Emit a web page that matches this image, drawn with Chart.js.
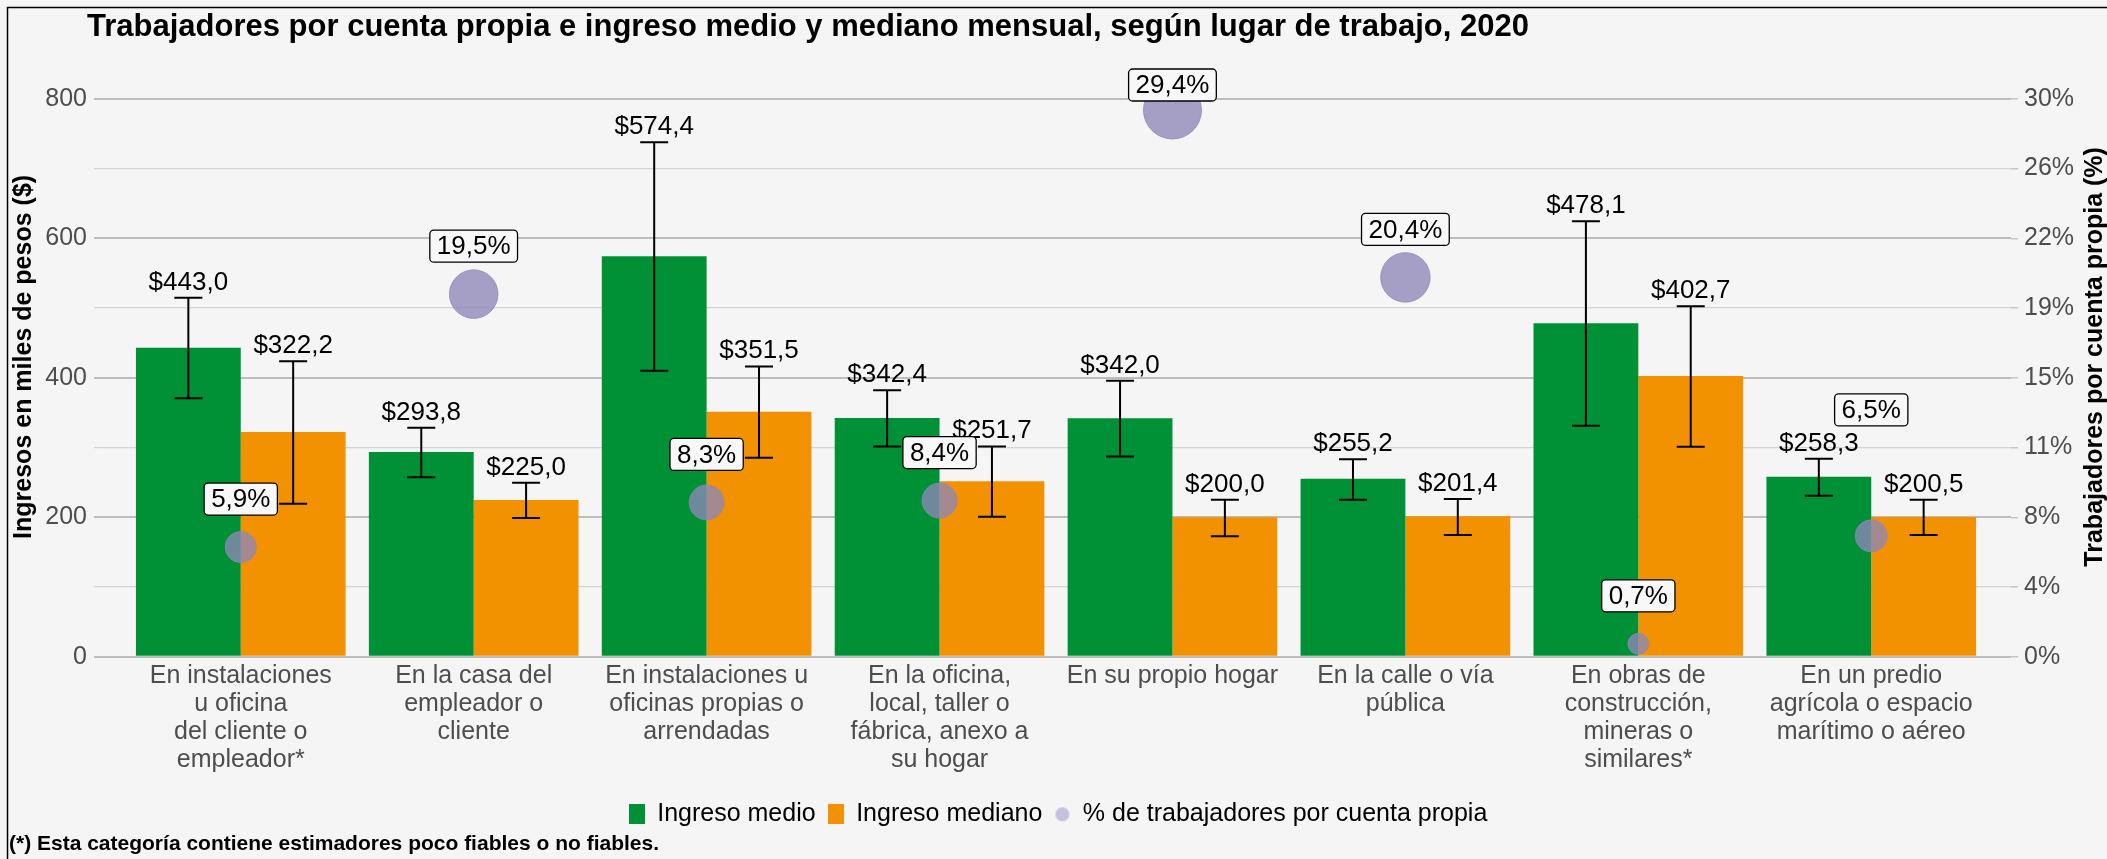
<!DOCTYPE html>
<html lang="es">
<head>
<meta charset="utf-8">
<title>Trabajadores por cuenta propia e ingreso medio y mediano mensual</title>
<script src="https://cdn.jsdelivr.net/npm/chart.js@4.4.1/dist/chart.umd.min.js"></script>
<style>
  html, body { margin: 0; padding: 0; background: #f5f5f5; }
  .chart-wrap { position: relative; width: 2107px; height: 859px; }
</style>
</head>
<body>
<div class="chart-wrap"><canvas id="chart"></canvas></div>
<script>
// Data
const categories = [
    ['En instalaciones', 'u oficina', 'del cliente o', 'empleador*'],
    ['En la casa del', 'empleador o', 'cliente'],
    ['En instalaciones u', 'oficinas propias o', 'arrendadas'],
    ['En la oficina,', 'local, taller o', 'fábrica, anexo a', 'su hogar'],
    ['En su propio hogar'],
    ['En la calle o vía', 'pública'],
    ['En obras de', 'construcción,', 'mineras o', 'similares*'],
    ['En un predio', 'agrícola o espacio', 'marítimo o aéreo']
];
const ingresoMedio = [443.0, 293.8, 574.4, 342.4, 342.0, 255.2, 478.1, 258.3];
const medioLow = [370.8, 257.5, 410.2, 301.6, 287.2, 225.2, 331.4, 231.0];
const medioHigh = [514.9, 328.5, 737.8, 382.3, 395.8, 283.4, 624.4, 283.9];
const ingresoMediano = [322.2, 225.0, 351.5, 251.7, 200.0, 201.4, 402.7, 200.5];
const medianoLow = [219.5, 198.9, 285.3, 200.7, 172.9, 174.8, 301.2, 174.8];
const medianoHigh = [423.7, 249.7, 416.4, 301.6, 225.2, 226.2, 502.5, 225.2];
const pctCuentaPropia = [5.9, 19.5, 8.3, 8.4, 29.4, 20.4, 0.7, 6.5];
const leftTickLabels = [0, 200, 400, 600, 800];
const rightTickLabels = ['0%', '4%', '8%', '11%', '15%', '19%', '22%', '26%', '30%'];

const FONT = '"Liberation Sans", Arial, sans-serif';
const GREEN = '#009036';
const ORANGE = '#f39200';
const PURPLE = 'rgba(142, 134, 184, 0.78)';

// label gap above bubble centre (px); a couple were repelled in the original
const bubbleLabelGap = { 4: 25, 7: 126 };

function fmtPeso(v) {
    return '$' + v.toFixed(1).replace('.', ',');
}
function fmtPct(v) {
    return v.toFixed(1).replace('.', ',') + '%';
}

// legend keys
function keyRect(color) {
    const c = document.createElement('canvas');
    c.width = 16; c.height = 20;
    const g = c.getContext('2d');
    g.fillStyle = color;
    g.fillRect(0, 0, 16, 20);
    return c;
}
function keyDot(color) {
    const c = document.createElement('canvas');
    c.width = 16; c.height = 16;
    const g = c.getContext('2d');
    g.fillStyle = color;
    g.beginPath();
    g.arc(8, 8, 7, 0, Math.PI * 2);
    g.fill();
    return c;
}

const extrasPlugin = {
    id: 'extras',
    afterDatasetsDraw(chart) {
        const ctx = chart.ctx;
        const yScale = chart.scales.y;
        chart.data.datasets.forEach((ds, di) => {
            if (!ds.errLow) return;
            const meta = chart.getDatasetMeta(di);
            meta.data.forEach((bar, j) => {
                const top = yScale.getPixelForValue(ds.errHigh[j]);
                const bottom = yScale.getPixelForValue(ds.errLow[j]);
                ctx.save();
                ctx.strokeStyle = '#000';
                ctx.lineWidth = 2;
                ctx.beginPath();
                ctx.moveTo(bar.x, top); ctx.lineTo(bar.x, bottom);
                ctx.moveTo(bar.x - 14, top); ctx.lineTo(bar.x + 14, top);
                ctx.moveTo(bar.x - 14, bottom); ctx.lineTo(bar.x + 14, bottom);
                ctx.stroke();
                ctx.fillStyle = '#000';
                ctx.font = '26px ' + FONT;
                ctx.textAlign = 'center';
                ctx.textBaseline = 'alphabetic';
                ctx.fillText(fmtPeso(ds.data[j].y), bar.x, top - 8);
                ctx.restore();
            });
        });
    },
    afterDraw(chart) {
        const ctx = chart.ctx;
        const area = chart.chartArea;

        // boxed labels over the bubbles
        const bubbleIdx = chart.data.datasets.findIndex(d => d.type === 'bubble');
        const meta = chart.getDatasetMeta(bubbleIdx);
        ctx.save();
        ctx.font = '26px ' + FONT;
        meta.data.forEach((pt, j) => {
            const text = fmtPct(pctCuentaPropia[j]);
            const gap = bubbleLabelGap[j] !== undefined ? bubbleLabelGap[j] : 48;
            const cy = pt.y - gap;
            const w = ctx.measureText(text).width + 14;
            const h = 32;
            const x0 = pt.x - w / 2, y0 = cy - h / 2, r = 4;
            ctx.beginPath();
            ctx.moveTo(x0 + r, y0);
            ctx.arcTo(x0 + w, y0, x0 + w, y0 + h, r);
            ctx.arcTo(x0 + w, y0 + h, x0, y0 + h, r);
            ctx.arcTo(x0, y0 + h, x0, y0, r);
            ctx.arcTo(x0, y0, x0 + w, y0, r);
            ctx.closePath();
            ctx.fillStyle = '#f8f8f8';
            ctx.fill();
            ctx.strokeStyle = '#000';
            ctx.lineWidth = 1.3;
            ctx.stroke();
            ctx.fillStyle = '#000';
            ctx.textAlign = 'center';
            ctx.textBaseline = 'middle';
            ctx.fillText(text, pt.x, cy + 1);
        });
        ctx.restore();

        // title
        ctx.save();
        ctx.fillStyle = '#000';
        ctx.font = 'bold 31px ' + FONT;
        ctx.textAlign = 'left';
        ctx.textBaseline = 'alphabetic';
        ctx.fillText('Trabajadores por cuenta propia e ingreso medio y mediano mensual, según lugar de trabajo, 2020', 87, 36);
        ctx.restore();

        // right axis title, reading bottom to top
        ctx.save();
        ctx.translate(2095, (area.top + area.bottom) / 2);
        ctx.rotate(-Math.PI / 2);
        ctx.fillStyle = '#000';
        ctx.font = 'bold 25px ' + FONT;
        ctx.textAlign = 'center';
        ctx.textBaseline = 'middle';
        ctx.fillText('Trabajadores por cuenta propia (%)', 0, 0);
        ctx.restore();

        // frame
        ctx.save();
        ctx.strokeStyle = '#000';
        ctx.lineWidth = 1.5;
        ctx.strokeRect(7.5, 7.5, chart.width + 20, chart.height + 20);
        ctx.restore();
    }
};

const ctx = document.getElementById('chart').getContext('2d');
new Chart(ctx, {
    type: 'bar',
    data: {
        datasets: [
            {
                label: 'Ingreso medio',
                data: ingresoMedio.map((v, i) => ({ x: i + 1, y: v })),
                errLow: medioLow,
                errHigh: medioHigh,
                backgroundColor: GREEN,
                yAxisID: 'y'
            },
            {
                label: 'Ingreso mediano',
                data: ingresoMediano.map((v, i) => ({ x: i + 1, y: v })),
                errLow: medianoLow,
                errHigh: medianoHigh,
                backgroundColor: ORANGE,
                yAxisID: 'y'
            },
            {
                type: 'bubble',
                label: '% de trabajadores por cuenta propia',
                // area grows with the share, like the original size scale
                data: pctCuentaPropia.map((v, i) => ({ x: i + 1, y: v, r: Math.sqrt(92 + 25.5 * v) })),
                backgroundColor: PURPLE,
                borderColor: PURPLE,
                borderWidth: 1,
                yAxisID: 'y1',
                order: -1
            }
        ]
    },
    options: {
        responsive: true,
        maintainAspectRatio: false,
        animation: false,
        events: [],
        categoryPercentage: 0.9,
        barPercentage: 1.0,
        layout: { padding: { top: 57, left: 9, right: 0, bottom: 0 } },
        scales: {
            x: {
                type: 'linear',
                min: 0.4,
                max: 8.6,
                offset: false,
                grid: { display: false, drawTicks: false },
                border: { display: false },
                ticks: {
                    stepSize: 1,
                    includeBounds: false,
                    autoSkip: false,
                    maxRotation: 0,
                    padding: 5,
                    color: '#4d4d4d',
                    font: { size: 25, family: FONT, lineHeight: 1.12 },
                    callback: v => categories[v - 1] || ''
                },
                afterFit: s => { s.height = 133; }
            },
            y: {
                position: 'left',
                min: 0,
                max: 860,
                border: { display: false },
                grid: {
                    color: c => (c.tick && c.tick.value % 200 === 0) ? '#bdbdbd' : '#d4d4d4',
                    lineWidth: c => (c.tick && c.tick.value % 200 === 0) ? 2 : 1.2,
                    tickLength: 7
                },
                ticks: {
                    stepSize: 100,
                    includeBounds: false,
                    autoSkip: false,
                    padding: 7,
                    color: '#4d4d4d',
                    font: { size: 25, family: FONT },
                    callback: v => leftTickLabels.includes(v) ? String(v) : ''
                },
                title: {
                    display: true,
                    text: 'Ingresos en miles de pesos ($)',
                    color: '#000',
                    font: { size: 25, weight: 'bold', family: FONT },
                    padding: { top: 0, bottom: 0 }
                },
                afterFit: s => { s.width = 92; }
            },
            y1: {
                position: 'right',
                min: 0,
                max: 860 * 30 / 800,
                border: { display: false },
                grid: { drawOnChartArea: false, color: '#c6c6c6', lineWidth: 1.5, tickLength: 7 },
                ticks: {
                    stepSize: 3.75,
                    includeBounds: false,
                    autoSkip: false,
                    padding: 6,
                    color: '#4d4d4d',
                    font: { size: 25, family: FONT },
                    callback: (v, i) => rightTickLabels[i]
                },
                afterFit: s => { s.width = 96; }
            }
        },
        plugins: {
            tooltip: { enabled: false },
            legend: {
                position: 'bottom',
                labels: {
                    usePointStyle: true,
                    pointStyleWidth: 16,
                    boxHeight: 20,
                    padding: 12,
                    color: '#000',
                    font: { size: 25, family: FONT },
                    generateLabels: () => [
                        { text: 'Ingreso medio', pointStyle: keyRect(GREEN), fillStyle: GREEN, lineWidth: 0, hidden: false, datasetIndex: 0 },
                        { text: 'Ingreso mediano', pointStyle: keyRect(ORANGE), fillStyle: ORANGE, lineWidth: 0, hidden: false, datasetIndex: 1 },
                        { text: '% de trabajadores por cuenta propia', pointStyle: keyDot('#c4c0dd'), fillStyle: '#c4c0dd', lineWidth: 0, hidden: false, datasetIndex: 2 }
                    ]
                }
            },
            subtitle: {
                display: true,
                position: 'bottom',
                align: 'start',
                text: '(*) Esta categoría contiene estimadores poco fiables o no fiables.',
                color: '#000',
                font: { size: 21, weight: 'bold', family: FONT, lineHeight: 1.2 },
                padding: { top: -5, bottom: 2 }
            }
        }
    },
    plugins: [extrasPlugin]
});
</script>
</body>
</html>
